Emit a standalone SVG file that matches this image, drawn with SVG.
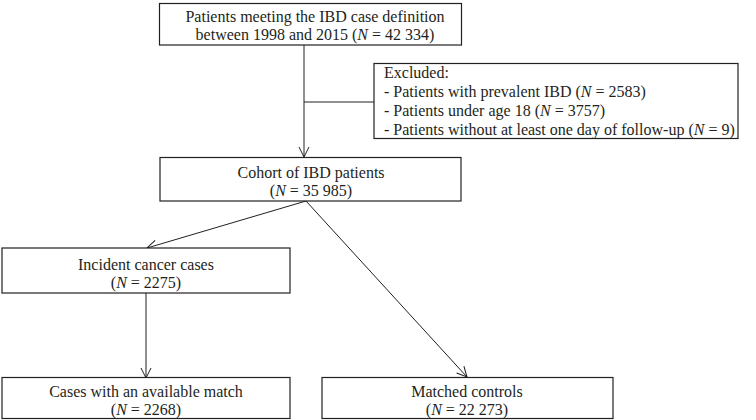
<svg xmlns="http://www.w3.org/2000/svg" width="756" height="420" viewBox="0 0 756 420">
<defs>
<style>
.box{fill:#fff;stroke:#231f20;stroke-width:1.2}
.t{font-family:"Liberation Serif","Times New Roman",serif;font-size:16px;fill:#231f20}
.c{text-anchor:middle}
.ln{fill:none;stroke:#231f20;stroke-width:1}
</style>
<marker id="ah" viewBox="0 0 12 12" refX="11" refY="6" markerWidth="12" markerHeight="12" markerUnits="userSpaceOnUse" orient="auto">
<path d="M1,1 L11,6 L1,11" fill="none" stroke="#231f20" stroke-width="1"/>
</marker>
</defs>
<rect width="756" height="420" fill="#fff"/>
<g id="connectors">
<line class="ln" x1="304" y1="45" x2="304" y2="157" marker-end="url(#ah)"/>
<line class="ln" x1="304" y1="102" x2="374" y2="102"/>
<line class="ln" x1="306" y1="201" x2="147" y2="248" marker-end="url(#ah)"/>
<line class="ln" x1="306" y1="201" x2="467" y2="377" marker-end="url(#ah)"/>
<line class="ln" x1="146" y1="293" x2="146" y2="378" marker-end="url(#ah)"/>
</g>
<g id="n-start">
<rect class="box" x="159.5" y="3.5" width="302" height="41.5"/>
<text class="t c" x="315" y="21.5">Patients meeting the IBD case definition</text>
<text class="t c" x="315" y="40">between 1998 and 2015 (<tspan font-style="italic">N</tspan> = 42 334)</text>
</g>
<g id="n-excluded">
<rect class="box" x="374" y="63.5" width="364" height="75"/>
<text class="t" x="384" y="78">Excluded:</text>
<text class="t" x="384" y="97">- Patients with prevalent IBD (<tspan font-style="italic">N</tspan> = 2583)</text>
<text class="t" x="384" y="116">- Patients under age 18 (<tspan font-style="italic">N</tspan> = 3757)</text>
<text class="t" x="384" y="135">- Patients without at least one day of follow-up (<tspan font-style="italic">N</tspan> = 9)</text>
</g>
<g id="n-cohort">
<rect class="box" x="160" y="157.5" width="301" height="43.5"/>
<text class="t c" x="311" y="177.5">Cohort of IBD patients</text>
<text class="t c" x="311" y="196">(<tspan font-style="italic">N</tspan> = 35 985)</text>
</g>
<g id="n-incident">
<rect class="box" x="2" y="248" width="288" height="45"/>
<text class="t c" x="146" y="270">Incident cancer cases</text>
<text class="t c" x="146" y="288">(<tspan font-style="italic">N</tspan> = 2275)</text>
</g>
<g id="n-cases">
<rect class="box" x="2" y="377.5" width="288" height="41"/>
<text class="t c" x="146" y="397">Cases with an available match</text>
<text class="t c" x="146" y="415">(<tspan font-style="italic">N</tspan> = 2268)</text>
</g>
<g id="n-controls">
<rect class="box" x="322" y="377.5" width="291" height="41"/>
<text class="t c" x="467" y="397">Matched controls</text>
<text class="t c" x="467" y="415">(<tspan font-style="italic">N</tspan> = 22 273)</text>
</g>
</svg>
